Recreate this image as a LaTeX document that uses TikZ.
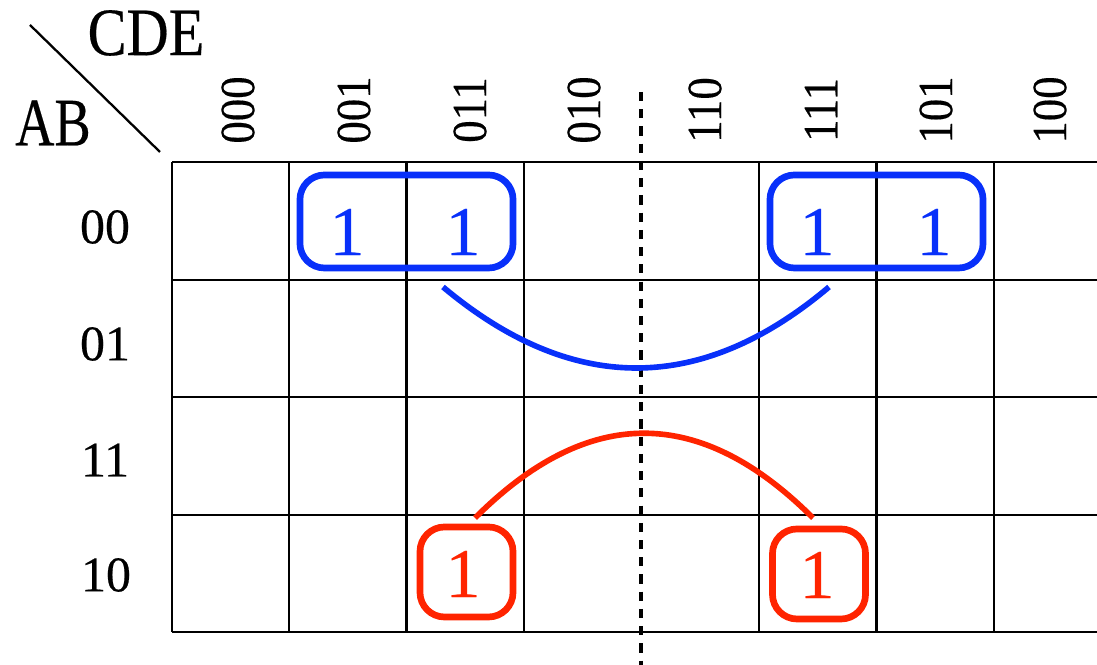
\documentclass[tikz,border=0pt]{standalone}
\usepackage{fontspec}
\setmainfont{Liberation Serif}[FakeBold=0.35]
\definecolor{kblue}{RGB}{8,48,250}
\definecolor{kred}{RGB}{255,36,0}
\begin{document}
\begin{tikzpicture}[x=0.01cm,y=-0.01cm,
  grid/.style={line width=0.65pt,black},
  lbl/.style={inner sep=0pt,font=\fontsize{14.2}{16}\selectfont},
  biglbl/.style={inner sep=0pt,font=\fontsize{19.3}{22}\selectfont},
  collbl/.style={inner sep=0pt,rotate=90,font=\fontsize{14}{16}\selectfont},
  one/.style={inner sep=0pt,font=\fontsize{19.9}{22}\selectfont},
  bluegrp/.style={draw=kblue,line width=1.9pt,rounded corners=7pt,minimum width=2.13cm,minimum height=0.93cm,inner sep=0pt},
  redgrp/.style={draw=kred,line width=1.9pt,rounded corners=7pt,minimum width=0.93cm,minimum height=0.9cm,inner sep=0pt},
  wrap/.style={line width=1.6pt}
]
\useasboundingbox (0,0) rectangle (1097,665);
% grid
\foreach \y in {162,280,397,515,632} \draw[grid] (172,\y) -- (1097,\y);
\foreach \x in {172,289,406.5,524,759,876.5,994} \draw[grid] (\x,162) -- (\x,632);
% symmetry line
\coordinate (st) at (641,92);
\coordinate (sb) at (641,665);
\draw[line width=1.2pt,dash pattern=on 2.6pt off 2.3pt] (st) -- (sb);
% corner
\coordinate (d1) at (30,25);
\coordinate (d2) at (160,152);
\draw[line width=0.65pt] (d1) -- (d2);
\node[biglbl] (cde) at (146,33) {\scalebox{0.86}[1]{CDE}};
\node[biglbl] (ab) at (53,123) {\scalebox{0.8}[1]{AB}};
% column labels
\node[collbl] (c0) at (238,110) {\scalebox{0.91}[1]{000}};
\node[collbl] (c1) at (354,110) {\scalebox{0.91}[1]{001}};
\node[collbl] (c2) at (470,110) {\scalebox{0.91}[1]{011}};
\node[collbl] (c3) at (584,110) {\scalebox{0.91}[1]{010}};
\node[collbl] (c4) at (705,110) {\scalebox{0.91}[1]{110}};
\node[collbl] (c5) at (821,110) {\scalebox{0.91}[1]{111}};
\node[collbl] (c6) at (936,110) {\scalebox{0.91}[1]{101}};
\node[collbl] (c7) at (1050,110) {\scalebox{0.91}[1]{100}};
% row labels
\node[lbl] (r0) at (105,227) {00};
\node[lbl] (r1) at (105,344) {01};
\node[lbl] (r2) at (105,460) {11};
\node[lbl] (r3) at (106,575) {10};
% ones
\node[one,text=kblue] (b1) at (347,232) {1};
\node[one,text=kblue] (b2) at (463,232) {1};
\node[one,text=kblue] (b3) at (817,232) {1};
\node[one,text=kblue] (b4) at (934,232) {1};
\node[one,text=kred] (e1) at (463,574) {1};
\node[one,text=kred] (e2) at (817,575) {1};
% groups
\node[bluegrp] (g1) at (406.5,221.5) {};
\node[bluegrp] (g2) at (876.5,221.5) {};
\node[redgrp] (h1) at (466.5,572) {};
\node[redgrp] (h2) at (819,574) {};
% wrap-around arcs
\coordinate (ba) at (443,287);
\coordinate (bb) at (829,287);
\draw[kblue,wrap] (ba) .. controls (572,395) and (701,395) .. (bb);
\coordinate (ra) at (475,518);
\coordinate (rb) at (813,518);
\draw[kred,wrap] (ra) .. controls (588,405) and (700,405) .. (rb);
\end{tikzpicture}
\end{document}
